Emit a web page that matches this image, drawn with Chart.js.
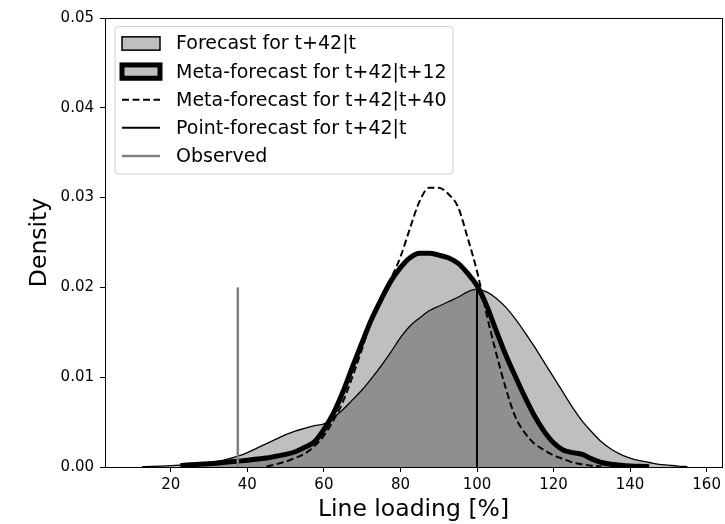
<!DOCTYPE html>
<html>
<head>
<meta charset="utf-8">
<script src="https://cdn.jsdelivr.net/npm/chart.js@4/dist/chart.umd.min.js"></script>
<style>
  html, body { margin: 0; padding: 0; background: #ffffff; }
  #wrap { width: 725px; height: 524px; position: relative; }
</style>
</head>
<body>
<div id="wrap"><canvas id="c" width="725" height="524"></canvas></div>
<script>
// ---- data ----
const loading = [10,12.5,15,17.5,20,22.5,25,27.5,30,32.5,35,37.5,40,42.5,45,47.5,50,52.5,55,57.5,
  60,62.5,65,67.5,70,72.5,75,77.5,80,82.5,85,87.5,90,92.5,95,97.5,100,102.5,105,107.5,
  110,112.5,115,117.5,120,122.5,125,127.5,130,132.5,135,137.5,140,142.5,145,147.5,150,152.5,155,157.5];

const forecastDensity = [null,0.00003,0.00006,0.0001,0.00015,0.00022,0.0003,0.0004,0.0005,0.00065,
  0.0009,0.0012,0.0016,0.0021,0.0026,0.0031,0.0036,0.0040,0.0043,0.0046,
  0.0048,0.0055,0.0064,0.0075,0.0086,0.0099,0.0113,0.0128,0.0144,0.0157,
  0.0166,0.0174,0.0179,0.0184,0.0189,0.0195,0.0198,0.0195,0.0188,0.0178,
  0.0165,0.0150,0.0134,0.0117,0.0100,0.0083,0.0066,0.0051,0.0039,0.0028,
  0.0020,0.0014,0.0010,0.0007,0.0005,0.0003,0.0002,0.0001,0.00005,null];

const meta12Density = [null,null,null,null,null,0.00015,0.00025,0.0003,0.00037,0.00045,
  0.00055,0.00065,0.00075,0.00088,0.0010,0.0012,0.0014,0.0017,0.0022,0.0028,
  0.0042,0.0060,0.0084,0.0112,0.0139,0.0165,0.0187,0.0207,0.0222,0.0233,
  0.0238,0.0238,0.0236,0.0233,0.0227,0.0216,0.0202,0.0180,0.0152,0.0125,
  0.0101,0.0078,0.0057,0.0040,0.0027,0.0019,0.0016,0.0014,0.0009,0.0005,
  0.0003,0.0002,0.00012,0.00007,0.00004,null,null,null,null,null];

const meta40Density = [null,null,null,null,null,null,null,null,null,null,
  null,null,null,null,0.00005,0.0003,0.0006,0.0010,0.0015,0.0023,
  0.0035,0.0052,0.0073,0.0101,0.0132,0.0164,0.0190,0.0210,0.0234,0.0266,
  0.0296,0.0311,0.0311,0.0304,0.0290,0.0256,0.0218,0.0170,0.0127,0.0088,
  0.0056,0.0038,0.0026,0.0019,0.0013,0.0009,0.0005,0.0003,0.00015,0.00005,
  null,null,null,null,null,null,null,null,null,null];

const pointForecastLoading = 100;
const pointForecastTop = 0.0198;
const observedLoading = 37.5;
const observedTop = 0.020;

const xTicks = [20,40,60,80,100,120,140,160];
const yTicks = [0,0.01,0.02,0.03,0.04,0.05];
const legendLabels = ['Forecast for t+42|t','Meta-forecast for t+42|t+12','Meta-forecast for t+42|t+40','Point-forecast for t+42|t','Observed'];

// ---- build chart ----
const toXY = (ys) => loading.map((x, i) => ({x: x, y: ys[i]}));
const FONT = 'DejaVu Sans';
const FILL = 'rgba(0,0,0,0.25)';

const spinePlugin = {
  id: 'spines',
  afterDatasetsDraw(chart) {
    const {ctx, chartArea: a} = chart;
    ctx.save();
    ctx.strokeStyle = '#000';
    ctx.lineWidth = 1;
    ctx.strokeRect(Math.round(a.left) + 0.5, Math.round(a.top) + 0.5,
                   Math.round(a.right - a.left), Math.round(a.bottom - a.top));
    ctx.restore();
  }
};

const legendPlugin = {
  id: 'mplLegend',
  afterDraw(chart) {
    const ctx = chart.ctx;
    const fs = 19;
    const x0 = 115, y0 = 26.5, w = 338, h = 147.5, r = 4;
    ctx.save();
    ctx.beginPath();
    ctx.moveTo(x0 + r, y0);
    ctx.arcTo(x0 + w, y0, x0 + w, y0 + h, r);
    ctx.arcTo(x0 + w, y0 + h, x0, y0 + h, r);
    ctx.arcTo(x0, y0 + h, x0, y0, r);
    ctx.arcTo(x0, y0, x0 + w, y0, r);
    ctx.closePath();
    ctx.fillStyle = 'rgba(255,255,255,0.8)';
    ctx.fill();
    ctx.strokeStyle = '#cccccc';
    ctx.lineWidth = 1;
    ctx.stroke();

    const hx0 = 122, hx1 = 160, tx = 176;
    legendLabels.forEach((label, i) => {
      const cy = y0 + 17 + i * 28.1;
      ctx.setLineDash([]);
      if (i === 0 || i === 1) {
        const hh = 13.3;
        ctx.fillStyle = '#ffffff';
        ctx.fillRect(hx0, cy - hh / 2, hx1 - hx0, hh);
        ctx.fillStyle = FILL;
        ctx.fillRect(hx0, cy - hh / 2, hx1 - hx0, hh);
        ctx.strokeStyle = '#000';
        ctx.lineWidth = i === 0 ? 1.5 : 5;
        ctx.strokeRect(hx0, cy - hh / 2, hx1 - hx0, hh);
      } else {
        ctx.beginPath();
        ctx.moveTo(hx0, cy);
        ctx.lineTo(hx1, cy);
        if (i === 2) { ctx.strokeStyle = '#000'; ctx.lineWidth = 2; ctx.setLineDash([7, 3.5]); }
        if (i === 3) { ctx.strokeStyle = '#000'; ctx.lineWidth = 2; }
        if (i === 4) { ctx.strokeStyle = '#808080'; ctx.lineWidth = 2.5; }
        ctx.stroke();
        ctx.setLineDash([]);
      }
      ctx.fillStyle = '#000';
      ctx.font = fs + 'px "' + FONT + '"';
      ctx.textBaseline = 'middle';
      ctx.textAlign = 'left';
      ctx.fillText(label, tx, cy + 1);
    });
    ctx.restore();
  }
};

new Chart(document.getElementById('c'), {
  type: 'line',
  data: {
    datasets: [
      {
        label: legendLabels[0], data: toXY(forecastDensity), order: 5,
        borderColor: '#000', borderWidth: 1.3, backgroundColor: FILL, fill: 'origin',
        cubicInterpolationMode: 'monotone', pointRadius: 0, clip: 0
      },
      {
        label: legendLabels[1], data: toXY(meta12Density), order: 4,
        borderColor: '#000', borderWidth: 5, backgroundColor: FILL, fill: 'origin',
        cubicInterpolationMode: 'monotone', pointRadius: 0, clip: 0, borderJoinStyle: 'round'
      },
      {
        label: legendLabels[2], data: toXY(meta40Density), order: 3,
        borderColor: '#000', borderWidth: 2, borderDash: [7, 3.5], fill: false,
        cubicInterpolationMode: 'monotone', pointRadius: 0, clip: 0
      },
      {
        label: legendLabels[3], data: [{x: pointForecastLoading, y: 0}, {x: pointForecastLoading, y: pointForecastTop}], order: 2,
        borderColor: '#000', borderWidth: 2, fill: false, pointRadius: 0, clip: 0
      },
      {
        label: legendLabels[4], data: [{x: observedLoading, y: 0}, {x: observedLoading, y: observedTop}], order: 1,
        borderColor: '#808080', borderWidth: 2.5, fill: false, pointRadius: 0, clip: 0
      }
    ]
  },
  options: {
    responsive: false,
    animation: false,
    devicePixelRatio: 1,
    layout: { padding: { top: 18, right: 2, left: 0, bottom: 0 } },
    plugins: { legend: { display: false }, tooltip: { enabled: false } },
    elements: { point: { radius: 0 } },
    scales: {
      x: {
        type: 'linear', min: 2.8, max: 164,
        afterBuildTicks: (s) => { s.ticks = xTicks.map(v => ({value: v})); },
        afterFit: (s) => { s.height = 57; },
        grid: { display: true, drawOnChartArea: false, drawTicks: true, tickLength: 5, color: '#000', lineWidth: 1 },
        border: { display: true, color: '#000', width: 1 },
        ticks: { color: '#000', font: { family: FONT, size: 15 }, padding: 4, maxRotation: 0, autoSkip: false,
                 callback: (v) => String(v) },
        title: { display: true, text: 'Line loading [%]', color: '#000',
                 font: { family: FONT, size: 23.5, lineHeight: 1.2 }, padding: { top: 0, bottom: 0 } }
      },
      y: {
        type: 'linear', min: 0, max: 0.05,
        afterBuildTicks: (s) => { s.ticks = yTicks.map(v => ({value: v})); },
        afterFit: (s) => { s.width = 105; },
        grid: { display: true, drawOnChartArea: false, drawTicks: true, tickLength: 5, color: '#000', lineWidth: 1 },
        border: { display: true, color: '#000', width: 1 },
        ticks: { color: '#000', font: { family: FONT, size: 15 }, padding: 6, autoSkip: false,
                 callback: (v) => Number(v).toFixed(2) },
        title: { display: true, text: 'Density', color: '#000',
                 font: { family: FONT, size: 23.5, lineHeight: 1.2 }, padding: { top: 26, bottom: 0 } }
      }
    }
  },
  plugins: [spinePlugin, legendPlugin]
});
</script>
</body>
</html>
